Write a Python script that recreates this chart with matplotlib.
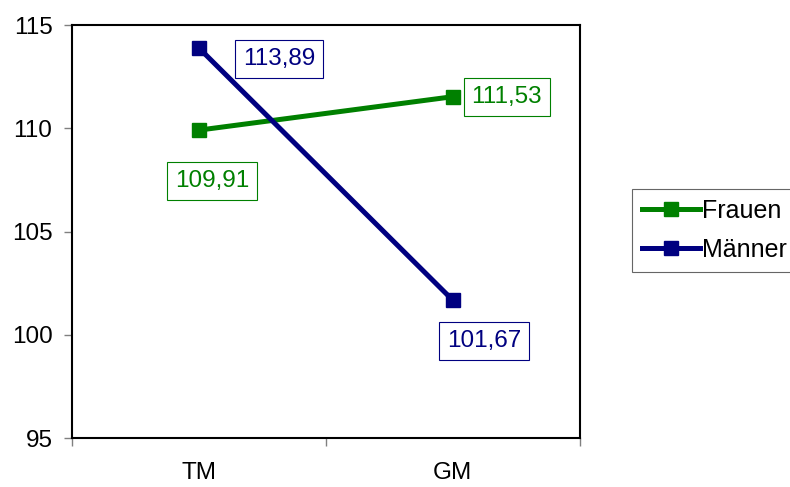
import numpy as np
import matplotlib.pyplot as plt
import matplotlib as mpl
mpl.rcParams['font.family'] = ['Liberation Sans', 'DejaVu Sans']

groups = ['TM', 'GM']
frauen = [109.91, 111.53]
maenner = [113.89, 101.67]
yticks = [95, 100, 105, 110, 115]

green = '#008000'
navy = '#000080'

fig = plt.figure(figsize=(7.9, 4.87), dpi=100)
ax = fig.add_axes([0.091, 0.1006, 0.643, 0.848])

x = np.arange(len(groups))
ax.plot(x, frauen, color=green, lw=3.6, marker='s', ms=10, label='Frauen')
ax.plot(x, maenner, color=navy, lw=3.6, marker='s', ms=10, label='Männer')

def fmt(v):
    return f'{v:.2f}'.replace('.', ',')

# value labels, offsets in pixels from each point
offsets_f = [(13, -51), (54, 0)]
offsets_m = [(80, -11), (31, -41)]
for xi, v, off in zip(x, frauen, offsets_f):
    ax.annotate(fmt(v), (xi, v), xytext=off, textcoords='offset pixels',
                ha='center', va='center', color=green, fontsize=17.5,
                bbox=dict(boxstyle='square,pad=0.33', fc='white', ec=green, lw=0.8))
for xi, v, off in zip(x, maenner, offsets_m):
    ax.annotate(fmt(v), (xi, v), xytext=off, textcoords='offset pixels',
                ha='center', va='center', color=navy, fontsize=17.5,
                bbox=dict(boxstyle='square,pad=0.33', fc='white', ec=navy, lw=0.8))

ax.set_xlim(-0.5, 1.5)
ax.set_ylim(95, 115)
ax.set_yticks(yticks)
ax.set_xticks(x)
ax.set_xticklabels(groups)
ax.set_xticks([-0.5, 0.5, 1.5], minor=True)
ax.tick_params(axis='x', which='major', length=0, pad=17, labelsize=17.5)
ax.tick_params(axis='x', which='minor', length=6, width=1, color='#808080')
ax.tick_params(axis='y', length=6, width=1, color='#808080', pad=8, labelsize=17.5)
for s in ax.spines.values():
    s.set_linewidth(1.5)
    s.set_color('black')

leg = fig.legend(loc='upper left', bbox_to_anchor=(0.8, 0.612), fontsize=18,
                 frameon=True, fancybox=False, edgecolor='#404040',
                 handlelength=2.3, handletextpad=0.1, borderpad=0.4,
                 borderaxespad=0, labelspacing=0.6)
leg.get_frame().set_linewidth(0.8)

fig.savefig('out.png', dpi=100)
